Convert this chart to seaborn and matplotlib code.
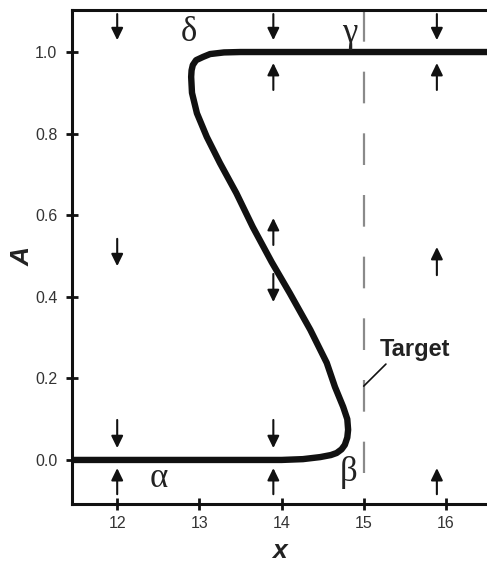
import matplotlib
matplotlib.use("Agg")
import matplotlib.pyplot as plt
import seaborn as sns
import pandas as pd

# ---- data -------------------------------------------------------------
# S-shaped steady-state curve, traced along its path (lower -> upper branch)
curve_x = [11.45, 14.0, 14.26, 14.47, 14.60, 14.67, 14.73, 14.77, 14.80, 14.81,
           14.80, 14.75, 14.65, 14.55, 14.35, 14.10, 13.88, 13.65, 13.45, 13.25,
           13.09, 12.97, 12.91, 12.90, 12.905, 12.92, 12.96, 13.045, 13.13,
           13.3, 13.5, 16.5]
curve_y = [0.0, 0.0, 0.002, 0.007, 0.012, 0.017, 0.026, 0.037, 0.055, 0.074,
           0.100, 0.130, 0.179, 0.238, 0.319, 0.409, 0.485, 0.571, 0.654, 0.728,
           0.792, 0.850, 0.900, 0.939, 0.955, 0.968, 0.980, 0.988, 0.995,
           0.999, 1.0, 1.0]

# direction arrows: x position, tail y, head y
arrow_x    = [12.0, 12.0, 12.0, 12.0,
              13.9, 13.9, 13.9, 13.9, 13.9, 13.9,
              15.89, 15.89, 15.89, 15.89]
arrow_tail = [1.093, 0.542, 0.098, -0.084,
              1.093, 0.907, 0.527, 0.456, 0.098, -0.084,
              1.093, 0.907, 0.453, -0.084]
arrow_head = [1.029, 0.475, 0.029, -0.020,
              1.029, 0.973, 0.593, 0.387, 0.029, -0.020,
              1.029, 0.973, 0.522, -0.020]

# Greek point labels
greek_labels = ["δ", "γ", "α", "β"]
greek_x = [12.875, 14.83, 12.50, 14.82]
greek_y = [1.049, 1.046, -0.045, -0.032]

# target line
target_x = 15.0
target_line_y = [1.103, -0.032]
target_label = "Target"
target_text_xy = (15.20, 0.27)
target_leader_x = [15.0, 15.27]
target_leader_y = [0.181, 0.235]

x_ticks = [12, 13, 14, 15, 16]
y_ticks = [0.0, 0.2, 0.4, 0.6, 0.8, 1.0]
x_label = "x"
y_label = "A"

# ---- style ------------------------------------------------------------
sns.set_style("ticks")
plt.rcParams["font.family"] = ["Liberation Sans", "DejaVu Sans"]
plt.rcParams["lines.scale_dashes"] = False

fig = plt.figure(figsize=(4.87, 5.63), dpi=100)
ax = fig.add_axes([72 / 487, 1 - 504 / 563, (487 - 72) / 487, (504 - 10) / 563])

df = pd.DataFrame({"x": curve_x, "A": curve_y})
sns.lineplot(data=df, x="x", y="A", sort=False, estimator=None, ax=ax,
             color="#111111", linewidth=4.6, solid_joinstyle="round",
             solid_capstyle="butt")

# dashed target line
ax.plot([target_x, target_x], target_line_y, color="#8a8a8a", linewidth=1.6,
        dashes=(22.8, 21.6), zorder=1)
ax.plot(target_leader_x, target_leader_y, color="#111111", linewidth=1.2)
ax.text(target_text_xy[0], target_text_xy[1], target_label, fontsize=17,
        fontweight="bold", color="#222222", ha="left", va="center")

# arrows
for xa, y0, y1 in zip(arrow_x, arrow_tail, arrow_head):
    ax.annotate("", xy=(xa, y1), xytext=(xa, y0),
                arrowprops=dict(arrowstyle="-|>,head_length=0.45,head_width=0.22",
                                mutation_scale=16, color="#111111", lw=1.5,
                                shrinkA=0, shrinkB=0))

for lab, gx, gy in zip(greek_labels, greek_x, greek_y):
    ax.text(gx, gy, lab, fontsize=25, family=["Liberation Serif", "DejaVu Serif"],
            ha="center", va="center", color="#222222")

ax.set_xlim(11.45, 16.5)
ax.set_ylim(-0.108, 1.103)
ax.set_xticks(x_ticks)
ax.set_yticks(y_ticks)
ax.set_xticklabels([str(t) for t in x_ticks])
ax.set_yticklabels([f"{t:.1f}" for t in y_ticks])
ax.tick_params(direction="inout", length=9, width=2.0, color="#111111",
               labelsize=11.5, labelcolor="#333333", pad=4)
ax.tick_params(axis="y", pad=6)

for side in ["left", "bottom", "top"]:
    ax.spines[side].set_linewidth(2.2)
    ax.spines[side].set_color("#111111")
ax.spines["right"].set_visible(False)

ax.set_xlabel(x_label, fontsize=19, fontweight="bold", fontstyle="italic",
              color="#222222", labelpad=6)
ax.set_ylabel(y_label, fontsize=19, fontweight="bold", fontstyle="italic",
              color="#222222", labelpad=0)

fig.savefig("out.png", dpi=100)
